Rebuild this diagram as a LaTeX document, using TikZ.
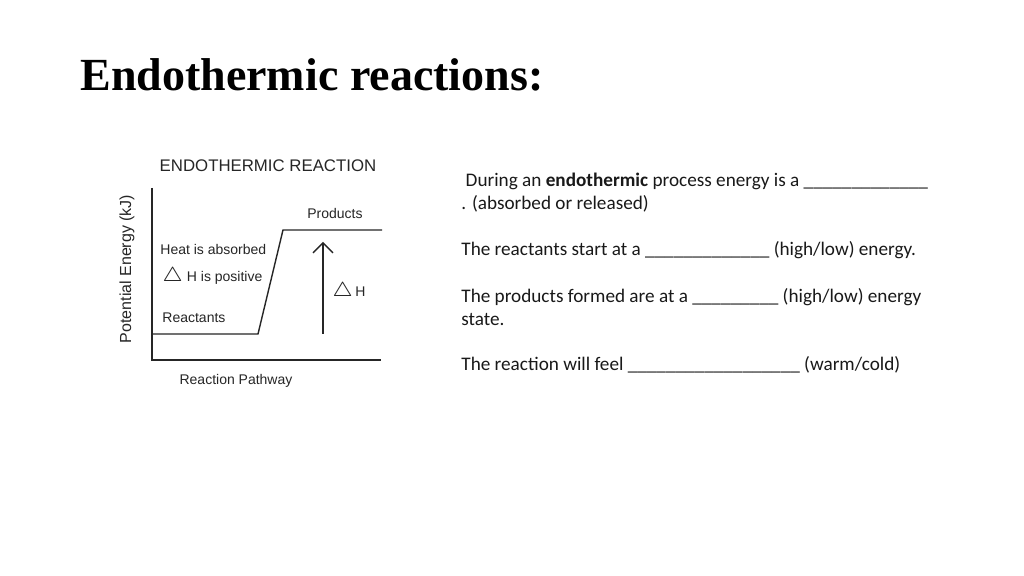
\documentclass[tikz,border=0pt]{standalone}
\usepackage{fontspec}
\setmainfont{Carlito}
\newfontfamily\titlefont{Liberation Serif}
\newfontfamily\chartfont{Liberation Sans}
\usetikzlibrary{arrows.meta}

\newcommand{\deltamark}{\scalebox{1.45}{$\triangle$}}

\tikzset{
  chartlabel/.style={font=\chartfont\fontsize{7}{8}\selectfont, text=black!85, inner sep=0pt},
  quiztext/.style={font=\fontsize{9.6}{11.5}\selectfont, text=black!90, align=left, inner sep=0pt, anchor=west},
  chartline/.style={line width=0.7pt, draw=black!85}
}

\begin{document}
\begin{tikzpicture}[x=0.5pt, y=-0.5pt]
  \useasboundingbox[fill=white] (0, 0) rectangle (1024, 576);

  \node[anchor=base west, inner sep=0pt, font=\titlefont\bfseries\fontsize{23}{27}\selectfont] (T) at (80, 91) {Endothermic reactions:};

  \node[chartlabel, font=\chartfont\fontsize{8.4}{10}\selectfont] (CT) at (268, 166) {ENDOTHERMIC REACTION};
  \node[chartlabel, font=\chartfont\fontsize{8}{10}\selectfont, rotate=90] (YL) at (127, 269) {Potential Energy (kJ)};
  \node[chartlabel] (XL) at (236, 381) {Reaction Pathway};

  \coordinate (O) at (152, 360);
  \coordinate (YT) at (152, 188);
  \coordinate (XR) at (381, 360);
  \coordinate (R1) at (152, 334);
  \coordinate (R2) at (258, 334);
  \coordinate (P1) at (283, 230);
  \coordinate (P2) at (382, 230);
  \coordinate (A1) at (323, 334);
  \coordinate (A2) at (323, 242);

  \draw[chartline] (YT) -- (O) -- (XR);
  \draw[chartline] (R1) -- (R2) -- (P1) -- (P2);
  \draw[chartline, -{Straight Barb[length=5pt, width=10pt]}] (A1) -- (A2);

  \node[chartlabel, anchor=west] (HA) at (160, 250) {Heat is absorbed};
  \node[chartlabel, anchor=west] (HP) at (162, 276) {\deltamark\ H is positive};
  \node[chartlabel, anchor=west] (RL) at (162, 318) {Reactants};
  \node[chartlabel] (PL) at (335, 214) {Products};
  \node[chartlabel, anchor=west] (DH) at (332, 291) {\deltamark\,H};

  \node[quiztext] (Q1) at (461, 192.5) {\ During an \textbf{endothermic} process energy is a \_\_\_\_\_\_\_\_\_\_\_\_\_\\. (absorbed or released)};
  \node[quiztext] (Q2) at (461, 250) {The reactants start at a \_\_\_\_\_\_\_\_\_\_\_\_\_ (high/low) energy.};
  \node[quiztext] (Q3) at (461, 307.5) {The products formed are at a \_\_\_\_\_\_\_\_\_ (high/low) energy\\state.};
  \node[quiztext] (Q4) at (461, 365) {The reaction will feel \_\_\_\_\_\_\_\_\_\_\_\_\_\_\_\_\_\_ (warm/cold)};
\end{tikzpicture}
\end{document}
